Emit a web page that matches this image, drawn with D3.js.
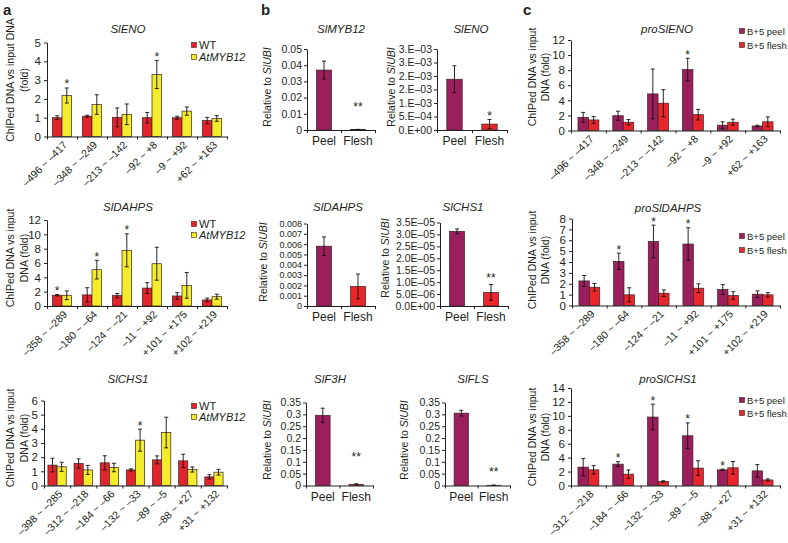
<!DOCTYPE html>
<html><head><meta charset="utf-8">
<script src="https://cdn.jsdelivr.net/npm/d3@7"></script>
<style>
body{margin:0;background:#fff;}
svg text{font-family:"Liberation Sans",Arial,Helvetica,sans-serif;fill:#231f20;}
</style></head><body>
<svg id="chart" width="788" height="543"></svg>
<script>
// ---------------- DATA ----------------
// Panel a – SlENO
const aENO_regions = ["–496 ~ –417","–348 ~ –249","–213 ~ –142","–92 ~ +8","–9 ~ +92","+62 ~ +163"];
const aENO_WT      = [1.0, 1.08, 1.02, 1.0, 1.0, 0.85];
const aENO_WT_err  = [0.1, 0.05, 0.5, 0.28, 0.08, 0.17];
const aENO_WT_sig  = ["", "", "", "", "", ""];
const aENO_MYB     = [2.18, 1.7, 1.18, 3.3, 1.35, 0.96];
const aENO_MYB_err = [0.4, 0.52, 0.55, 0.75, 0.22, 0.15];
const aENO_MYB_sig = ["*", "", "", "*", "", ""];
const aENO_ticks   = [0, 1, 2, 3, 4, 5];

// Panel a – SlDAHPS
const aDAHPS_regions = ["–358 ~ –289","–180 ~ –64","–124 ~ –21","–11 ~ +92","+101 ~ +175","+102 ~ +219"];
const aDAHPS_WT      = [1.5, 1.55, 1.45, 2.5, 1.4, 0.85];
const aDAHPS_WT_err  = [0.1, 1.0, 0.3, 0.75, 0.45, 0.25];
const aDAHPS_WT_sig  = ["*", "", "", "", "", ""];
const aDAHPS_MYB     = [1.5, 5.07, 7.77, 5.9, 2.88, 1.3];
const aDAHPS_MYB_err = [0.6, 1.3, 2.3, 2.3, 1.8, 0.35];
const aDAHPS_MYB_sig = ["", "*", "*", "", "", ""];
const aDAHPS_ticks   = [0, 2, 4, 6, 8, 10, 12];

// Panel a – SlCHS1
const aCHS_regions = ["–398 ~ –285","–312 ~ –218","–184 ~ –66","–132 ~ –33","–89 ~ –5","–88 ~ +27","+31 ~ +132"];
const aCHS_WT      = [1.44, 1.55, 1.6, 1.1, 1.81, 1.74, 0.61];
const aCHS_WT_err  = [0.48, 0.33, 0.5, 0.08, 0.28, 0.47, 0.15];
const aCHS_WT_sig  = ["", "", "", "", "", "", ""];
const aCHS_MYB     = [1.32, 1.1, 1.27, 3.2, 3.74, 1.13, 0.94];
const aCHS_MYB_err = [0.32, 0.32, 0.3, 0.78, 1.08, 0.18, 0.2];
const aCHS_MYB_sig = ["", "", "", "*", "", "", ""];
const aCHS_ticks   = [0, 1, 2, 3, 4, 5, 6];

// Panel b – expression relative to SlUBI
const b_tissues = ["Peel", "Flesh"];
const bMYB12     = [0.037, 0.0003];
const bMYB12_err = [0.0055, 0.0001];
const bMYB12_sig = ["", "**"];
const bMYB12_ticks  = [0, 0.01, 0.02, 0.03, 0.04, 0.05];
const bMYB12_labels = ["0", "0.01", "0.02", "0.03", "0.04", "0.05"];

const bENO     = [0.00188, 0.00022];
const bENO_err = [0.0005, 0.00017];
const bENO_sig = ["", "*"];
const bENO_ticks  = [0, 0.0005, 0.001, 0.0015, 0.002, 0.0025, 0.003];
const bENO_labels = ["0.E+00", "5.E–04", "1.E–03", "2.E–03", "2.E–03", "3.E–03", "3.E–03"];

const bDAHPS     = [0.0058, 0.0019];
const bDAHPS_err = [0.0009, 0.0012];
const bDAHPS_sig = ["", ""];
const bDAHPS_ticks  = [0, 0.001, 0.002, 0.003, 0.004, 0.005, 0.006, 0.007, 0.008];
const bDAHPS_labels = ["0", "0.001", "0.002", "0.003", "0.004", "0.005", "0.006", "0.007", "0.008"];

const bCHS1     = [3.13e-5, 0.57e-5];
const bCHS1_err = [0.1e-5, 0.33e-5];
const bCHS1_sig = ["", "**"];
const bCHS1_ticks  = [0, 0.5e-5, 1.0e-5, 1.5e-5, 2.0e-5, 2.5e-5, 3.0e-5, 3.5e-5];
const bCHS1_labels = ["0.0E+00", "5.0E–06", "1.0E–05", "1.5E–05", "2.0E–05", "2.5E–05", "3.0E–05", "3.5E–05"];

const bF3H     = [0.296, 0.005];
const bF3H_err = [0.03, 0.002];
const bF3H_sig = ["", "**"];
const bFLS     = [0.305, 0.001];
const bFLS_err = [0.012, 0.0005];
const bFLS_sig = ["", "**"];
const bF_ticks  = [0, 0.05, 0.1, 0.15, 0.2, 0.25, 0.3, 0.35];
const bF_labels = ["0", "0.05", "0.1", "0.15", "0.2", "0.25", "0.3", "0.35"];

// Panel c – proSlENO
const cENO_regions = aENO_regions;
const cENO_peel      = [1.75, 1.96, 4.85, 8.08, 0.7, 0.6];
const cENO_peel_err  = [0.65, 0.6, 3.3, 1.5, 0.45, 0.1];
const cENO_peel_sig  = ["", "", "", "*", "", ""];
const cENO_flesh     = [1.4, 1.1, 3.62, 2.1, 1.1, 1.15];
const cENO_flesh_err = [0.45, 0.35, 1.8, 0.7, 0.4, 0.65];
const cENO_flesh_sig = ["", "", "", "", "", ""];
const cENO_ticks = [0, 2, 4, 6, 8, 10, 12];

// Panel c – proSlDAHPS
const cDAHPS_regions = aDAHPS_regions;
const cDAHPS_peel      = [2.26, 4.06, 5.89, 5.65, 1.47, 1.04];
const cDAHPS_peel_err  = [0.5, 0.75, 1.5, 1.5, 0.45, 0.3];
const cDAHPS_peel_sig  = ["", "*", "*", "*", "", ""];
const cDAHPS_flesh     = [1.68, 0.98, 1.13, 1.59, 0.92, 0.98];
const cDAHPS_flesh_err = [0.35, 0.65, 0.3, 0.4, 0.35, 0.2];
const cDAHPS_flesh_sig = ["", "", "", "", "", ""];
const cDAHPS_ticks = [0, 1, 2, 3, 4, 5, 6, 7, 8];

// Panel c – proSlCHS1
const cCHS_regions = ["–312 ~ –218","–184 ~ –66","–132 ~ –33","–89 ~ –5","–88 ~ +27","+31 ~ +132"];
const cCHS_peel      = [2.64, 3.07, 9.83, 7.14, 2.25, 2.1];
const cCHS_peel_err  = [1.25, 0.35, 1.85, 1.85, 0.1, 0.9];
const cCHS_peel_sig  = ["", "*", "*", "*", "*", ""];
const cCHS_flesh     = [2.25, 1.63, 0.58, 2.5, 2.54, 0.8];
const cCHS_flesh_err = [0.6, 0.6, 0.1, 1.05, 0.9, 0.15];
const cCHS_flesh_sig = ["", "", "", "", "", ""];
const cCHS_ticks = [0, 2, 4, 6, 8, 10, 12, 14];

// ---------------- STYLE ----------------
const COL = {wt:"#e3232b", myb:"#f2ec2a", peel:"#9b1f5d", flesh:"#e8262c", stroke:"#3b2222", ink:"#231f20"};
const FONT = '"Liberation Sans",Arial,sans-serif';

const svg = d3.select("#chart");

function errBar(g, cx, lo, hi){
  g.append("line").attr("x1", cx).attr("x2", cx).attr("y1", lo).attr("y2", hi);
  g.append("line").attr("x1", cx-2).attr("x2", cx+2).attr("y1", hi).attr("y2", hi);
  g.append("line").attr("x1", cx-2).attr("x2", cx+2).attr("y1", lo).attr("y2", lo);
}

function panel(p){
  const g = svg.append("g");
  const n = p.cats.length;
  const x = d3.scaleBand().domain(p.cats).range([p.x0, p.x1]).paddingInner(p.pi).paddingOuter(p.pi/2);
  const xs = d3.scaleBand().domain(d3.range(p.series.length)).range([0, x.bandwidth()]);
  const y = d3.scaleLinear().domain([0, p.max]).range([p.yB, p.yT]);

  p.series.forEach((s, si) => {
    g.append("g").selectAll("rect").data(p.cats).join("rect")
      .attr("x", c => x(c) + xs(si))
      .attr("width", xs.bandwidth())
      .attr("y", (c, i) => y(s.v[i]))
      .attr("height", (c, i) => p.yB - y(s.v[i]))
      .attr("fill", s.c).attr("stroke", COL.stroke).attr("stroke-width", 0.7);
  });
  p.series.forEach((s, si) => {
    const eg = g.append("g").attr("stroke", "#111").attr("stroke-width", 0.9);
    p.cats.forEach((c, i) => {
      const cx = x(c) + xs(si) + xs.bandwidth()/2;
      const lo = y(Math.max(0, s.v[i] - s.e[i])), hi = y(s.v[i] + s.e[i]);
      errBar(eg, cx, lo, hi);
      if (s.s[i]) {
        g.append("text").attr("x", cx).attr("y", hi + 0.5)
          .attr("text-anchor", "middle").style("font-size", "12px").text(s.s[i]);
      }
    });
  });

  const ya = d3.axisLeft(y).tickValues(p.ticks).tickFormat((d, i) => p.tickLabels[i])
    .tickSize(3).tickSizeOuter(0).tickPadding(3);
  const yg = g.append("g").attr("transform", `translate(${p.x0},0)`).call(ya);
  yg.selectAll("text").style("font-size", "11.5px").attr("fill", COL.ink).style("font-family", FONT);
  yg.selectAll("line,path").attr("stroke", "#222");

  const xb = d3.scaleLinear().domain([0, n]).range([p.x0, p.x1]);
  const xa = d3.axisBottom(xb).tickValues(d3.range(n + 1)).tickFormat("").tickSize(3).tickSizeOuter(0);
  const xg = g.append("g").attr("transform", `translate(0,${p.yB})`).call(xa);
  xg.selectAll("line,path").attr("stroke", "#222");

  g.append("g").selectAll("text").data(p.cats).join("text")
    .attr("transform", c => `translate(${x(c) + x.bandwidth()/2 + 6},${p.yB + 9}) rotate(-45)`)
    .attr("text-anchor", "end").style("font-size", "10.5px").text(c => c);

  g.append("text").attr("x", p.title.x).attr("y", p.title.y).attr("text-anchor", "middle")
    .style("font-size", "11.5px").style("font-style", "italic").text(p.title.text);

  p.ytitle.lines.forEach((ln, li) => {
    g.append("text").attr("transform", `translate(${p.ytitle.xs[li]},${p.ytitle.cy}) rotate(-90)`)
      .attr("text-anchor", "middle").style("font-size", "10.5px").text(ln);
  });

  p.legend.items.forEach((it, li) => {
    const ly = p.legend.ys[li];
    g.append("rect").attr("x", p.legend.x - 2.5).attr("y", ly - 2.5).attr("width", 5).attr("height", 5)
      .attr("fill", it.c).attr("stroke", COL.stroke).attr("stroke-width", 0.6);
    g.append("text").attr("x", p.legend.x + 5).attr("y", ly + 4).style("font-size", p.legend.font)
      .style("font-style", it.italic ? "italic" : "normal").text(it.t);
  });
}

function bPanel(cfg, v, e, s){
  const g = svg.append("g");
  const x = d3.scaleBand().domain(b_tissues).range([cfg.x0, cfg.x1]).paddingInner(0.56).paddingOuter(0.28);
  const y = d3.scaleLinear().domain([0, cfg.max]).range([cfg.yB, cfg.yT]);
  const cols = [COL.peel, COL.flesh];
  g.selectAll("rect").data(b_tissues).join("rect")
    .attr("x", c => x(c)).attr("width", x.bandwidth())
    .attr("y", (c, i) => y(v[i])).attr("height", (c, i) => cfg.yB - y(v[i]))
    .attr("fill", (c, i) => cols[i]).attr("stroke", COL.stroke).attr("stroke-width", 0.7);
  const eg = g.append("g").attr("stroke", "#111").attr("stroke-width", 0.9);
  b_tissues.forEach((c, i) => {
    const cx = x(c) + x.bandwidth()/2;
    const lo = y(Math.max(0, v[i] - e[i])), hi = y(v[i] + e[i]);
    errBar(eg, cx, lo, hi);
    if (s[i]) g.append("text").attr("x", cx).attr("y", hi + 0.5 - (cfg.starLift || 0))
      .attr("text-anchor", "middle").style("font-size", "12px").text(s[i]);
  });
  const ya = d3.axisLeft(y).tickValues(cfg.ticks).tickFormat((d, i) => cfg.labels[i])
    .tickSize(3).tickSizeOuter(0).tickPadding(2);
  const yg = g.append("g").attr("transform", `translate(${cfg.x0},0)`).call(ya);
  yg.selectAll("text").style("font-size", cfg.tickFont || "10.5px").attr("fill", COL.ink).style("font-family", FONT);
  yg.selectAll("line,path").attr("stroke", "#222");
  const xb = d3.scaleLinear().domain([0, 2]).range([cfg.x0, cfg.x1]);
  const xg = g.append("g").attr("transform", `translate(0,${cfg.yB})`)
    .call(d3.axisBottom(xb).tickValues([0, 1, 2]).tickFormat("").tickSize(3).tickSizeOuter(0));
  xg.selectAll("line,path").attr("stroke", "#222");
  g.append("g").selectAll("text").data(b_tissues).join("text")
    .attr("x", c => x(c) + x.bandwidth()/2).attr("y", cfg.yB + 15)
    .attr("text-anchor", "middle").style("font-size", "12px").text(c => c);
  g.append("text").attr("x", cfg.tx).attr("y", cfg.ty).attr("text-anchor", "middle")
    .style("font-size", "11.5px").style("font-style", "italic").text(cfg.title);
  const t = g.append("text").attr("transform", `translate(${cfg.yx},${cfg.ycy}) rotate(-90)`)
    .attr("text-anchor", "middle").style("font-size", "10.5px");
  t.append("tspan").text("Relative to ");
  t.append("tspan").style("font-style", "italic").text("SlUBI");
}

const legA = (ys) => ({x:194, ys, font:"11px", items:[{t:"WT", c:COL.wt}, {t:"AtMYB12", c:COL.myb, italic:true}]});
const legC = (ys) => ({x:742, ys, font:"9.5px", items:[{t:"B+5 peel", c:COL.peel}, {t:"B+5 flesh", c:COL.flesh}]});
const ytA1 = {lines:["ChIPed DNA vs input DNA", "(fold)"], xs:[14, 28]};
const ytA2 = {lines:["ChIPed DNA vs input", "DNA (fold)"], xs:[14, 28]};
const ytC  = {lines:["ChIPed DNA vs input", "DNA (fold)"], xs:[536, 549]};

// ---- panel a ----
panel({cats:aENO_regions, max:5, ticks:aENO_ticks, tickLabels:aENO_ticks.map(String),
  x0:47, x1:227, yB:136.5, yT:42.5, pi:0.36,
  series:[{v:aENO_WT, e:aENO_WT_err, s:aENO_WT_sig, c:COL.wt}, {v:aENO_MYB, e:aENO_MYB_err, s:aENO_MYB_sig, c:COL.myb}],
  title:{text:"SlENO", x:128, y:33}, ytitle:{...ytA1, cy:80}, legend:legA([45, 57])});

panel({cats:aDAHPS_regions, max:12, ticks:aDAHPS_ticks, tickLabels:aDAHPS_ticks.map(String),
  x0:47, x1:227, yB:306, yT:220, pi:0.36,
  series:[{v:aDAHPS_WT, e:aDAHPS_WT_err, s:aDAHPS_WT_sig, c:COL.wt}, {v:aDAHPS_MYB, e:aDAHPS_MYB_err, s:aDAHPS_MYB_sig, c:COL.myb}],
  title:{text:"SlDAHPS", x:128, y:211}, ytitle:{...ytA2, cy:258}, legend:legA([224, 235])});

panel({cats:aCHS_regions, max:6, ticks:aCHS_ticks, tickLabels:aCHS_ticks.map(String),
  x0:44, x1:227, yB:485.5, yT:400.5, pi:0.3,
  series:[{v:aCHS_WT, e:aCHS_WT_err, s:aCHS_WT_sig, c:COL.wt}, {v:aCHS_MYB, e:aCHS_MYB_err, s:aCHS_MYB_sig, c:COL.myb}],
  title:{text:"SlCHS1", x:128, y:383}, ytitle:{...ytA2, cy:438}, legend:legA([406, 417])});

// ---- panel b ----
bPanel({x0:307, x1:375, yB:130, yT:49, max:0.05, ticks:bMYB12_ticks, labels:bMYB12_labels, starLift:19,
  title:"SlMYB12", tx:341, ty:33, yx:271, ycy:87}, bMYB12, bMYB12_err, bMYB12_sig);
bPanel({x0:437, x1:507, yB:130, yT:49, max:0.003, ticks:bENO_ticks, labels:bENO_labels,
  title:"SlENO", tx:471, ty:33, yx:395, ycy:87}, bENO, bENO_err, bENO_sig);
bPanel({x0:307, x1:375, yB:306, yT:223.5, max:0.008, ticks:bDAHPS_ticks, labels:bDAHPS_labels, tickFont:"9px",
  title:"SlDAHPS", tx:338, ty:211, yx:267, ycy:262}, bDAHPS, bDAHPS_err, bDAHPS_sig);
bPanel({x0:440, x1:508, yB:306, yT:222.5, max:3.5e-5, ticks:bCHS1_ticks, labels:bCHS1_labels, starLift:3,
  title:"SlCHS1", tx:463, ty:211, yx:389, ycy:258}, bCHS1, bCHS1_err, bCHS1_sig);
bPanel({x0:306, x1:373, yB:485.5, yT:402.5, max:0.35, ticks:bF_ticks, labels:bF_labels, starLift:23,
  title:"SlF3H", tx:330, ty:383, yx:271, ycy:440}, bF3H, bF3H_err, bF3H_sig);
bPanel({x0:445, x1:510, yB:485.5, yT:402.5, max:0.35, ticks:bF_ticks, labels:bF_labels, starLift:10,
  title:"SlFLS", tx:473, ty:383, yx:408, ycy:440}, bFLS, bFLS_err, bFLS_sig);

// ---- panel c ----
panel({cats:cENO_regions, max:12, ticks:cENO_ticks, tickLabels:cENO_ticks.map(String),
  x0:571, x1:780, yB:130.5, yT:40, pi:0.4,
  series:[{v:cENO_peel, e:cENO_peel_err, s:cENO_peel_sig, c:COL.peel}, {v:cENO_flesh, e:cENO_flesh_err, s:cENO_flesh_sig, c:COL.flesh}],
  title:{text:"proSlENO", x:667, y:33}, ytitle:{...ytC, cy:77}, legend:legC([31, 45])});

panel({cats:cDAHPS_regions, max:8, ticks:cDAHPS_ticks, tickLabels:cDAHPS_ticks.map(String),
  x0:572, x1:780, yB:305.5, yT:218.5, pi:0.4,
  series:[{v:cDAHPS_peel, e:cDAHPS_peel_err, s:cDAHPS_peel_sig, c:COL.peel}, {v:cDAHPS_flesh, e:cDAHPS_flesh_err, s:cDAHPS_flesh_sig, c:COL.flesh}],
  title:{text:"proSlDAHPS", x:668, y:212}, ytitle:{...ytC, cy:260}, legend:legC([236, 250])});

panel({cats:cCHS_regions, max:14, ticks:cCHS_ticks, tickLabels:cCHS_ticks.map(String),
  x0:571, x1:780, yB:485.5, yT:388, pi:0.4,
  series:[{v:cCHS_peel, e:cCHS_peel_err, s:cCHS_peel_sig, c:COL.peel}, {v:cCHS_flesh, e:cCHS_flesh_err, s:cCHS_flesh_sig, c:COL.flesh}],
  title:{text:"proSlCHS1", x:668, y:383}, ytitle:{...ytC, cy:437}, legend:legC([400, 413])});

// panel letters
[["a", 3], ["b", 261], ["c", 523]].forEach(([t, x]) =>
  svg.append("text").attr("x", x).attr("y", 15).style("font-size", "15px").style("font-weight", "bold").text(t));
</script>
</body></html>
